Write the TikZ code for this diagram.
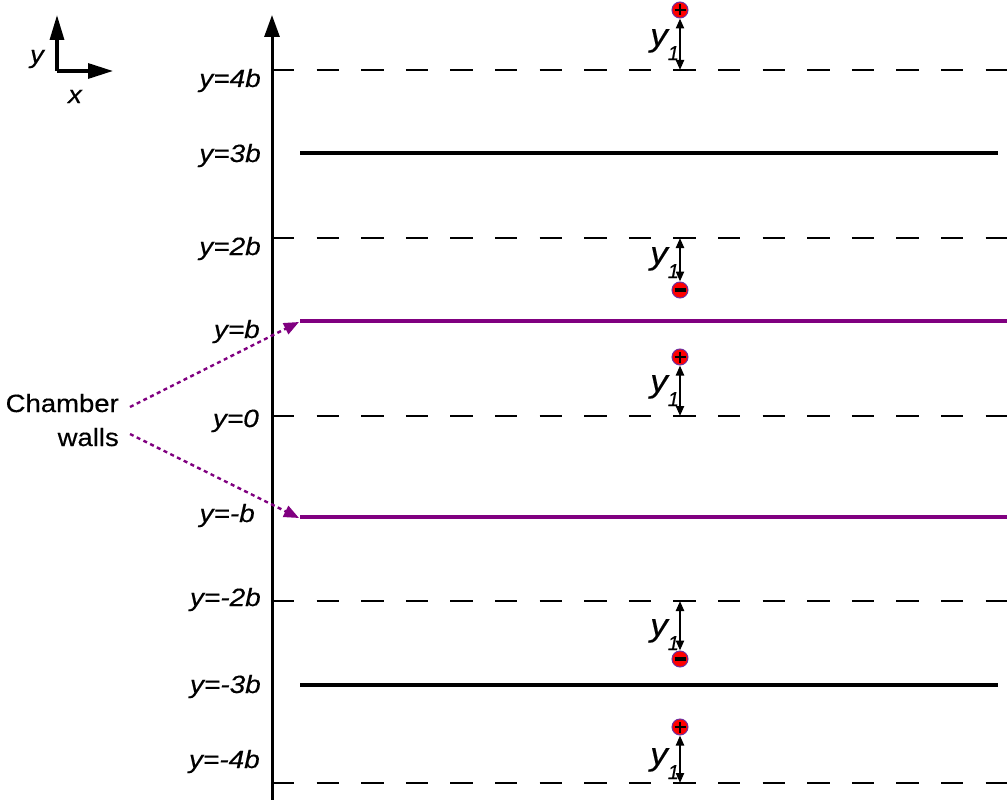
\documentclass[tikz,border=0pt]{standalone}
\usepackage{fontspec}
\setmainfont{Liberation Sans}[FakeBold=0.35]
\usetikzlibrary{arrows.meta}
\definecolor{wallpurple}{RGB}{128,0,128}
\definecolor{chargeedge}{RGB}{112,48,160}
\newcommand{\lbl}[1]{\scalebox{1.12}[1]{\fontsize{25}{28}\selectfont\itshape #1}}
\newcommand{\yone}{\scalebox{1.1}[1]{\fontsize{32}{32}\selectfont\itshape y}\raisebox{-14pt}{\fontsize{20}{20}\selectfont\itshape 1}}
\begin{document}
\begin{tikzpicture}[x=1pt,y=-1pt,
  axisline/.style={line width=3pt},
  dashline/.style={line width=2.5pt, dash pattern=on 22.3pt off 22.3pt},
  solidline/.style={line width=4pt},
  wallline/.style={line width=3.5pt, wallpurple},
  pointer/.style={line width=2.4pt, wallpurple, dash pattern=on 4pt off 3.5pt, -{Triangle[length=15pt,width=12pt]}},
  ylab/.style={anchor=base east, inner sep=0pt},
  yonelab/.style={anchor=base west, inner sep=0pt},
  charge/.style={circle, fill=red, draw=chargeedge, line width=1pt, minimum size=16pt, inner sep=0pt},
  sign/.style={line width=2.6pt, black},
  dim/.style={line width=2.2pt, {Triangle[length=10pt,width=8pt]}-{Triangle[length=10pt,width=8pt]}},
]
\useasboundingbox (0,0) rectangle (1007,800);

% small coordinate axes
\coordinate (o) at (57,71);
\coordinate (oy) at (57,15);
\coordinate (ox) at (113,71);
\draw[line width=3.2pt, -{Triangle[length=25pt,width=14pt]}] (o) -- (oy);
\draw[line width=3.2pt, -{Triangle[length=25pt,width=15pt]}] (o) -- (ox);
\node[anchor=base, inner sep=0pt] (ly) at (37,63) {\scalebox{1.1}[1]{\fontsize{25}{25}\selectfont\itshape y}};
\node[anchor=base, inner sep=0pt] (lx) at (75,103) {\scalebox{1.1}[1]{\fontsize{25}{25}\selectfont\itshape x}};

% main axis
\coordinate (axb) at (272,800);
\coordinate (axt) at (272,15);
\draw[axisline, -{Triangle[length=22pt,width=15pt]}] (axb) -- (axt);

% horizontal lines
\coordinate (d4a) at (272,70);  \coordinate (d4b) at (1007,70);
\coordinate (s3a) at (300,153); \coordinate (s3b) at (998,153);
\coordinate (d2a) at (272,238); \coordinate (d2b) at (1007,238);
\coordinate (w1a) at (300,321); \coordinate (w1b) at (1007,321);
\coordinate (d0a) at (272,416); \coordinate (d0b) at (1007,416);
\coordinate (w2a) at (300,517); \coordinate (w2b) at (1007,517);
\coordinate (dm2a) at (272,601); \coordinate (dm2b) at (1007,601);
\coordinate (sm3a) at (300,685); \coordinate (sm3b) at (998,685);
\coordinate (dm4a) at (272,783); \coordinate (dm4b) at (1007,783);
\draw[dashline] (d4a) -- (d4b);
\draw[solidline] (s3a) -- (s3b);
\draw[dashline] (d2a) -- (d2b);
\draw[wallline] (w1a) -- (w1b);
\draw[dashline] (d0a) -- (d0b);
\draw[wallline] (w2a) -- (w2b);
\draw[dashline] (dm2a) -- (dm2b);
\draw[solidline] (sm3a) -- (sm3b);
\draw[dashline] (dm4a) -- (dm4b);

% y labels
\node[ylab] (l4) at (261,87) {\lbl{y=4b}};
\node[ylab] (l3) at (261,162) {\lbl{y=3b}};
\node[ylab] (l2) at (261,255) {\lbl{y=2b}};
\node[ylab] (l1) at (260,338) {\lbl{y=b}};
\node[ylab] (l0) at (259,427) {\lbl{y=0}};
\node[ylab] (lm1) at (255,522) {\lbl{y=-b}};
\node[ylab] (lm2) at (261,606) {\lbl{y=-2b}};
\node[ylab] (lm3) at (261,693) {\lbl{y=-3b}};
\node[ylab] (lm4) at (260,768) {\lbl{y=-4b}};

% chamber walls
\node[anchor=base east, align=right, inner sep=0pt, font=\fontsize{25}{34}\selectfont] (cw) at (119,446) {\scalebox{1.1}[1]{Chamber}\\\scalebox{1.1}[1]{walls}};
\coordinate (p1s) at (130,407);
\coordinate (p2s) at (130,434);
\coordinate (p1e) at (299,322);
\coordinate (p2e) at (299,518);
\draw[pointer] (p1s) -- (p1e);
\draw[pointer] (p2s) -- (p2e);

% charges
\node[charge] (c1) at (680,10) {};
\node[charge] (c2) at (680,290) {};
\node[charge] (c3) at (680,357) {};
\node[charge] (c4) at (680,659) {};
\node[charge] (c5) at (680,727) {};
\draw[sign] ([xshift=-5.5pt]c1.center) -- ([xshift=5.5pt]c1.center);
\draw[sign] ([yshift=-5.5pt]c1.center) -- ([yshift=5.5pt]c1.center);
\draw[line width=3.2pt] ([xshift=-5.5pt]c2.center) -- ([xshift=5.5pt]c2.center);
\draw[sign] ([xshift=-5.5pt]c3.center) -- ([xshift=5.5pt]c3.center);
\draw[sign] ([yshift=-5.5pt]c3.center) -- ([yshift=5.5pt]c3.center);
\draw[line width=3.2pt] ([xshift=-5.5pt]c4.center) -- ([xshift=5.5pt]c4.center);
\draw[sign] ([xshift=-5.5pt]c5.center) -- ([xshift=5.5pt]c5.center);
\draw[sign] ([yshift=-5.5pt]c5.center) -- ([yshift=5.5pt]c5.center);

% distance arrows
\coordinate (a1) at (680,70);
\coordinate (a2) at (680,238);
\coordinate (a3) at (680,416);
\coordinate (a4) at (680,601);
\coordinate (a5) at (680,783);
\draw[dim] (a1) -- (c1);
\draw[dim] (a2) -- (c2);
\draw[dim] (a3) -- (c3);
\draw[dim] (a4) -- (c4);
\draw[dim] (a5) -- (c5);

% y1 labels
\node[yonelab] (y1a) at (650,46) {\yone};
\node[yonelab] (y1b) at (650,264) {\yone};
\node[yonelab] (y1c) at (650,392) {\yone};
\node[yonelab] (y1d) at (650,636) {\yone};
\node[yonelab] (y1e) at (650,765) {\yone};
\end{tikzpicture}
\end{document}
